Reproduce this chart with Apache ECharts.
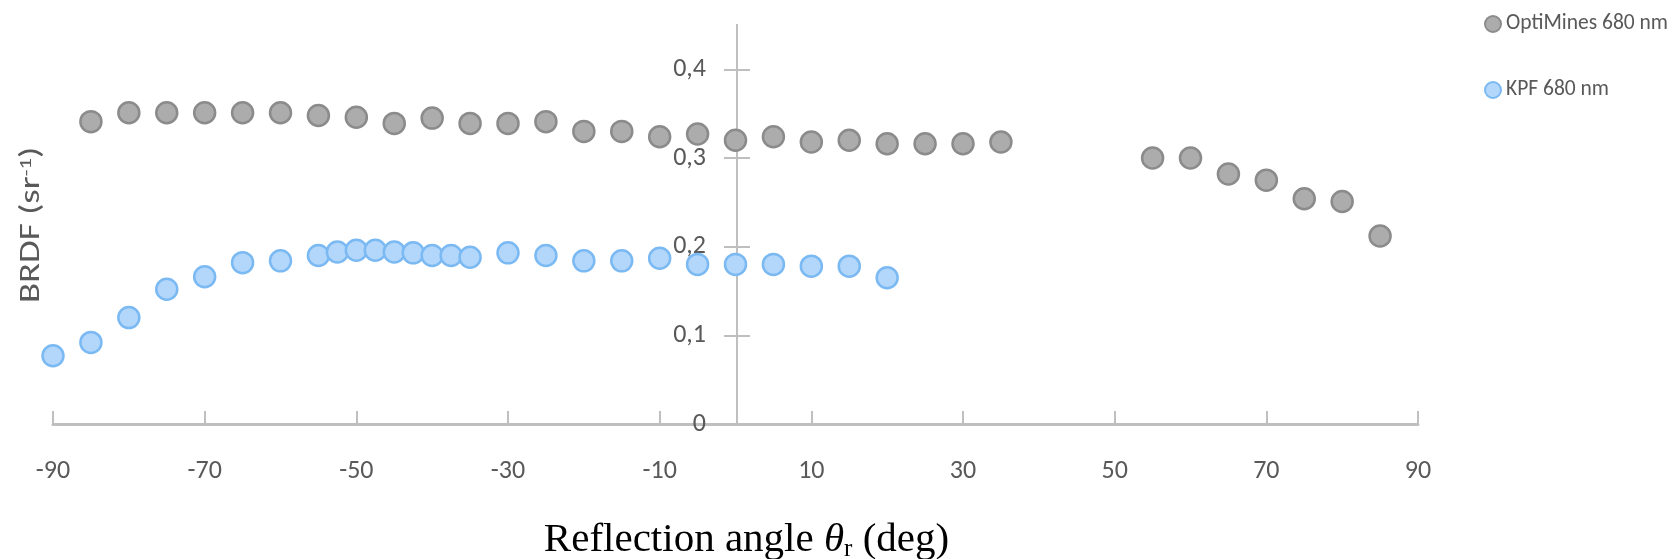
<!DOCTYPE html>
<html>
<head>
<meta charset="utf-8">
<script src="https://cdn.jsdelivr.net/npm/echarts@6/dist/echarts.min.js"></script>
<style>
html,body{margin:0;padding:0;background:#fff;}
#chart{width:1675px;height:559px;}
</style>
</head>
<body>
<div id="chart"></div>
<script>
// Data
const seriesNames = ['OptiMines 680 nm', 'KPF 680 nm'];

const optiAngles = [-85,-80,-75,-70,-65,-60,-55,-50,-45,-40,-35,-30,-25,-20,-15,-10,-5,0,5,10,15,20,25,30,35,55,60,65,70,75,80,85];
const optiValues = [0.341,0.351,0.351,0.351,0.351,0.351,0.348,0.346,0.339,0.345,0.339,0.339,0.341,0.330,0.330,0.324,0.327,0.320,0.324,0.318,0.320,0.316,0.316,0.316,0.318,0.300,0.300,0.282,0.275,0.254,0.251,0.212];

const kpfAngles = [-90,-85,-80,-75,-70,-65,-60,-55,-52.5,-50,-47.5,-45,-42.5,-40,-37.5,-35,-30,-25,-20,-15,-10,-5,0,5,10,15,20];
const kpfValues = [0.077,0.092,0.120,0.152,0.166,0.182,0.184,0.190,0.194,0.196,0.196,0.194,0.193,0.190,0.190,0.188,0.193,0.190,0.184,0.184,0.187,0.180,0.180,0.180,0.178,0.178,0.165];

const yTicks = [0, 0.1, 0.2, 0.3, 0.4];
const xTicks = [-90,-70,-50,-30,-10,10,30,50,70,90];

const pair = (xs, ys) => xs.map((x, i) => [x, ys[i]]);

const chart = echarts.init(document.getElementById('chart'));
const axisGray = '#bfbfbf';
const labelGray = '#595959';
const sansFont = 'Carlito, Lato, sans-serif';
const serifFont = '"Liberation Serif", "Times New Roman", serif';
const yAxisOffset = -684; // places the value axis at x = 0

const yAxisBase = {
  type: 'value', min: 0, max: 0.45, position: 'left', offset: yAxisOffset,
  splitLine: {show: false},
  axisLine: {onZero: false, lineStyle: {color: axisGray, width: 2}}
};

chart.setOption({
  animation: false,
  backgroundColor: '#ffffff',
  grid: {left: 53, right: 257, top: 25, bottom: 135, outerBoundsMode: 'none', containLabel: false},
  legend: {
    orient: 'vertical',
    left: 1479,
    top: 8,
    itemWidth: 16,
    itemHeight: 16,
    itemGap: 44,
    icon: 'circle',
    textStyle: {fontFamily: sansFont, fontSize: 21.5, color: labelGray},
    data: seriesNames
  },
  xAxis: {
    type: 'value',
    min: -90,
    max: 90,
    interval: 20,
    splitLine: {show: false},
    axisLine: {onZero: false, lineStyle: {color: axisGray, width: 3}},
    axisTick: {show: true, inside: true, length: 13, customValues: xTicks, lineStyle: {color: axisGray, width: 2}},
    axisLabel: {customValues: xTicks, margin: 34, fontFamily: sansFont, fontSize: 26, color: labelGray},
    name: '{t|Reflection angle }{th|θ}{sub|r}{t| (deg)}',
    nameLocation: 'middle',
    nameGap: 94,
    nameTextStyle: {
      padding: [0,0,0,22],
      rich: {
        t: {fontFamily: serifFont, fontSize: 41, color: '#000'},
        th: {fontFamily: serifFont, fontSize: 41, fontStyle: 'italic', color: '#000'},
        sub: {fontFamily: serifFont, fontSize: 25, color: '#000', verticalAlign: 'bottom', padding: [19,0,0,0]}
      }
    }
  },
  yAxis: [Object.assign({}, yAxisBase, {
    axisTick: {show: true, inside: false, length: 13, customValues: yTicks, lineStyle: {color: axisGray, width: 2}},
    axisLabel: {
      customValues: yTicks, margin: 31, fontFamily: sansFont, fontSize: 26, color: labelGray,
      formatter: v => String(+v.toFixed(2)).replace('.', ',')
    }
  }), Object.assign({}, yAxisBase, {
    axisTick: {show: true, inside: true, length: 13, customValues: yTicks, lineStyle: {color: axisGray, width: 2}},
    axisLabel: {show: false}
  })],
  graphic: [{
    type: 'text',
    x: 32,
    y: 225,
    rotation: Math.PI / 2,
    scaleX: 1.32,
    style: {
      text: '{a|BRDF (sr}{s|-1}{a|)}',
      align: 'center',
      verticalAlign: 'middle',
      rich: {
        a: {fontFamily: sansFont, fontSize: 28, fill: labelGray},
        s: {fontFamily: sansFont, fontSize: 17, fill: labelGray, verticalAlign: 'top', padding: [0,0,10,0]}
      }
    }
  }],
  series: [{
    name: seriesNames[0],
    type: 'scatter',
    symbolSize: 21,
    itemStyle: {color: '#adacac', borderColor: '#8c8b8b', borderWidth: 2.5, opacity: 1},
    data: pair(optiAngles, optiValues),
    z: 3
  }, {
    name: seriesNames[1],
    type: 'scatter',
    symbolSize: 21,
    itemStyle: {color: '#b3d7fb', borderColor: '#7bb9f3', borderWidth: 2.5, opacity: 1},
    data: pair(kpfAngles, kpfValues),
    z: 3
  }]
});
</script>
</body>
</html>
